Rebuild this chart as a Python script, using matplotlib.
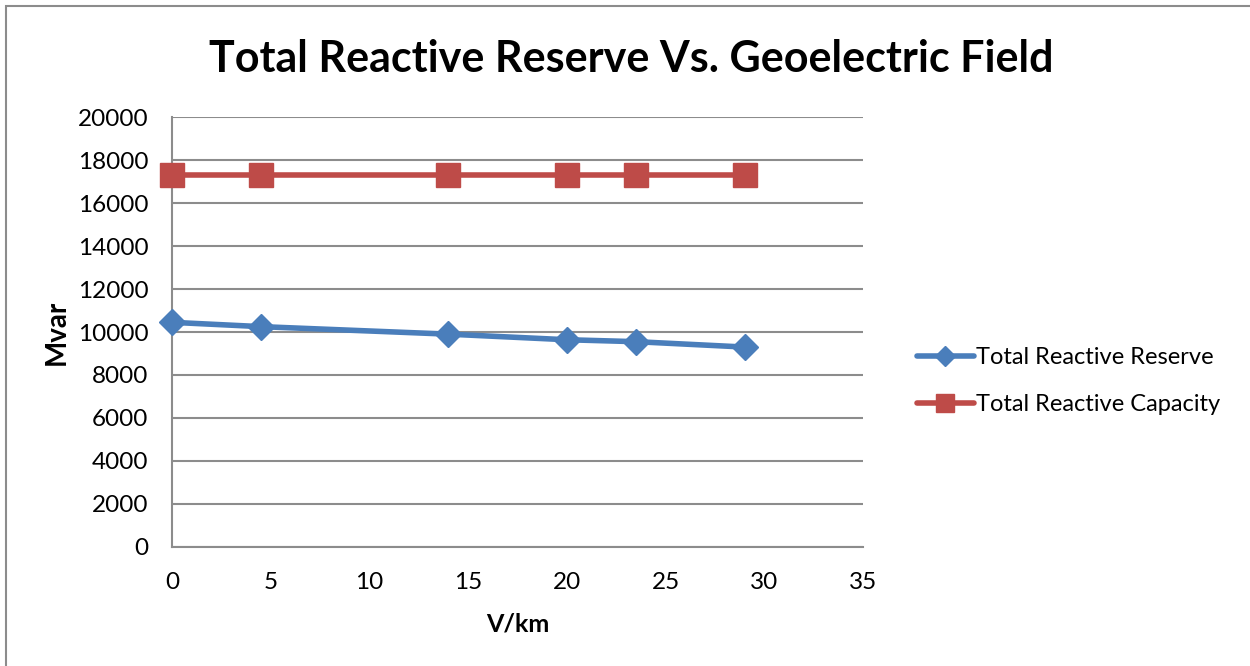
"""Reactive reserve and capacity against geoelectric field strength."""
import matplotlib
matplotlib.use("Agg")
import matplotlib.pyplot as plt
from matplotlib.patches import Rectangle

plt.rcParams["font.family"] = ["Lato", "DejaVu Sans"]

field_vkm = [0, 4.5, 14, 20, 23.5, 29]
reserve_mvar = [10450, 10250, 9900, 9640, 9550, 9300]
capacity_mvar = [17300, 17300, 17300, 17300, 17300, 17300]
y_ticks = [0, 2000, 4000, 6000, 8000, 10000, 12000, 14000, 16000, 18000, 20000]
x_ticks = [0, 5, 10, 15, 20, 25, 30, 35]

BLUE = "#4a7ebb"
RED = "#be4b48"
GRID = "#8c8c8c"

fig = plt.figure(figsize=(12.5, 6.66), dpi=100)
fig.patches.append(Rectangle((6 / 1250, -0.1), 1.2, (660 / 666) + 0.1, transform=fig.transFigure,
                             fill=False, edgecolor="#8c8c8c", lw=1.5))
ax = fig.add_axes([0.1376, 0.1787, 0.5528, 0.6456])

ax.plot(field_vkm, reserve_mvar, color=BLUE, lw=4, marker="D", ms=13,
        label="Total Reactive Reserve", solid_capstyle="round", clip_on=False, zorder=3)
ax.plot(field_vkm, capacity_mvar, color=RED, lw=4, marker="s", ms=17,
        label="Total Reactive Capacity", solid_capstyle="round", clip_on=False, zorder=3)

ax.set_xlim(0, 35)
ax.set_ylim(0, 20000)
ax.set_xticks(x_ticks)
ax.set_yticks(y_ticks)
ax.yaxis.grid(True, color=GRID, lw=1.5)
ax.set_axisbelow(True)
ax.tick_params(length=0, labelsize=17.5, pad=17)
ax.tick_params(axis="x", pad=18)
for side in ("top", "right"):
    ax.spines[side].set_visible(False)
for side in ("left", "bottom"):
    ax.spines[side].set_color(GRID)
    ax.spines[side].set_linewidth(1.5)

ax.set_xlabel("V/km", fontsize=18, fontweight="bold", labelpad=14)
ax.set_ylabel("Mvar", fontsize=20, fontweight="bold", labelpad=6)
fig.text(0.505, 0.912, "Total Reactive Reserve Vs. Geoelectric Field",
         ha="center", va="center", fontsize=31, fontweight="bold")

ax.legend(loc="center left", bbox_to_anchor=(1.078, 0.385), frameon=False,
          fontsize=17, handlelength=2.4, handletextpad=0.1, labelspacing=1.1,
          borderpad=0, borderaxespad=0, markerscale=0.75)

fig.savefig("out.png", dpi=100)
